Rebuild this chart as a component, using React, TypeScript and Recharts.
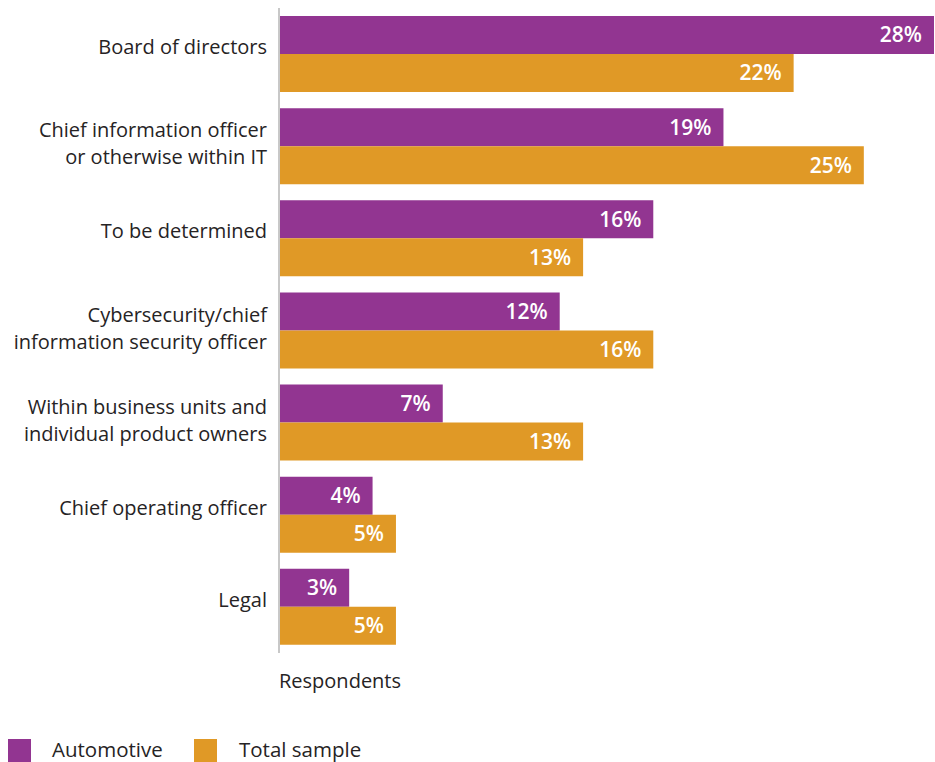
import React from "react"
import {
  BarChart,
  Bar,
  XAxis,
  YAxis,
  Legend,
  LabelList,
} from "recharts"

const categories = [
  "Board of directors",
  "Chief information officer\nor otherwise within IT",
  "To be determined",
  "Cybersecurity/chief\ninformation security officer",
  "Within business units and\nindividual product owners",
  "Chief operating officer",
  "Legal",
]
const automotive = [28, 19, 16, 12, 7, 4, 3]
const totalSample = [22, 25, 13, 16, 13, 5, 5]

const PURPLE = "#923591"
const ORANGE = "#e09926"
const TEXT = "#262324"
const FONT = "'Open Sans', sans-serif"

const data = categories.map((name, i) => ({
  name,
  automotive: automotive[i],
  total: totalSample[i],
}))

function CategoryTick(props: any) {
  const { x, y, payload } = props
  const lines: string[] = String(payload.value).split("\n")
  const startDy = lines.length === 1 ? -7 : -16
  return (
    <text x={x} y={y} textAnchor="end" fill={TEXT} fontSize={20} fontFamily={FONT}>
      {lines.map((line, i) => (
        <tspan key={i} x={x} dy={i === 0 ? startDy + 7 : 27}>
          {line}
        </tspan>
      ))}
    </text>
  )
}

function RespondentsLabel(props: any) {
  const vb = props.viewBox || {}
  return (
    <text x={vb.x} y={vb.y + 35} fill={TEXT} fontSize={20} fontFamily={FONT}>
      Respondents
    </text>
  )
}

function renderLegend() {
  const items = [
    { label: "Automotive", color: PURPLE, sq: 8, tx: 52 },
    { label: "Total sample", color: ORANGE, sq: 194, tx: 239 },
  ]
  return (
    <div style={{ position: "relative", width: 935, height: 50, fontFamily: FONT }}>
      {items.map((it) => (
        <React.Fragment key={it.label}>
          <div
            style={{
              position: "absolute",
              left: it.sq,
              top: 27,
              width: 23,
              height: 23,
              background: it.color,
            }}
          />
          <div
            style={{
              position: "absolute",
              left: it.tx,
              top: 22,
              fontSize: 20.5,
              lineHeight: "30px",
              color: TEXT,
              whiteSpace: "nowrap",
            }}
          >
            {it.label}
          </div>
        </React.Fragment>
      ))}
    </div>
  )
}

const labelProps = {
  position: "insideRight" as const,
  offset: 12,
  fill: "#fff",
  fontSize: 21,
  fontWeight: 600,
  fontFamily: FONT,
  formatter: (v: any) => `${v}%`,
}

export default function App() {
  return (
    <div style={{ position: "absolute", left: 0, top: 0, width: 935, height: 762, background: "#fff" }}>
      <BarChart
        width={935}
        height={762}
        data={data}
        layout="vertical"
        margin={{ top: 8, right: 1, bottom: 0, left: 0 }}
        barCategoryGap={8}
        barGap={0}
      >
        <XAxis
          type="number"
          domain={[0, 28]}
          tick={false}
          axisLine={false}
          tickLine={false}
          height={59}
          label={<RespondentsLabel />}
        />
        <YAxis
          type="category"
          dataKey="name"
          width={279}
          axisLine={{ stroke: "#c8c8c8", strokeWidth: 2 }}
          tickLine={false}
          tickSize={0}
          tickMargin={12}
          interval={0}
          tick={<CategoryTick />}
        />
        <Legend
          verticalAlign="bottom"
          align="left"
          height={50}
          content={renderLegend}
          wrapperStyle={{ left: 0, width: 935, height: 50 }}
        />
        <Bar dataKey="automotive" name="Automotive" fill={PURPLE} isAnimationActive={false}>
          <LabelList dataKey="automotive" {...labelProps} />
        </Bar>
        <Bar dataKey="total" name="Total sample" fill={ORANGE} isAnimationActive={false}>
          <LabelList dataKey="total" {...labelProps} />
        </Bar>
      </BarChart>
    </div>
  )
}
